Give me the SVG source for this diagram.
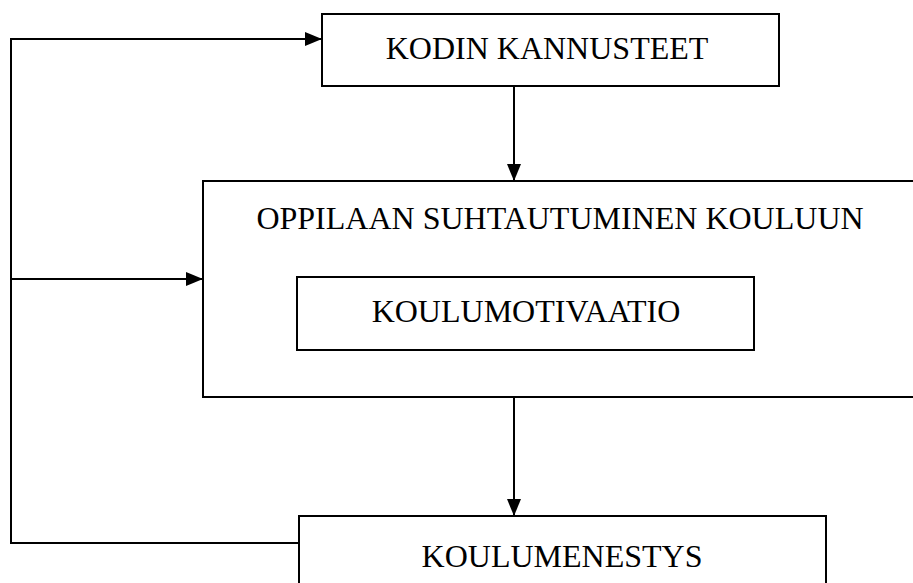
<svg xmlns="http://www.w3.org/2000/svg" width="913" height="583" viewBox="0 0 913 583">
<style>
.box{fill:#fff;stroke:#000;stroke-width:2}
.lbl{font-family:"Liberation Serif","Times New Roman",serif;font-size:32px;fill:#000;text-anchor:middle}
.con{fill:none;stroke:#000;stroke-width:2}
</style>
<defs>
<marker id="ah" markerWidth="17" markerHeight="14" refX="17" refY="7" orient="auto" markerUnits="userSpaceOnUse">
<path d="M0,0 L17,7 L0,14 Z" fill="#000"/>
</marker>
</defs>
<rect width="913" height="583" fill="#fff"/>
<g id="oppilaan">
<rect class="box" x="203" y="181" width="720" height="216"/>
<text class="lbl" x="560" y="229">OPPILAAN SUHTAUTUMINEN KOULUUN</text>
</g>
<g id="kodin">
<rect class="box" x="322" y="14" width="457" height="72"/>
<text class="lbl" x="547" y="59">KODIN KANNUSTEET</text>
</g>
<g id="koulumotivaatio">
<rect class="box" x="297" y="277" width="457" height="73"/>
<text class="lbl" x="526" y="322">KOULUMOTIVAATIO</text>
</g>
<g id="koulumenestys">
<rect class="box" x="299" y="516" width="527" height="80"/>
<text class="lbl" x="562" y="567">KOULUMENESTYS</text>
</g>
<g id="connectors">
<path class="con" d="M299,543 L11,543 L11,39 L322,39" marker-end="url(#ah)"/>
<path class="con" d="M11,279 L203,279" marker-end="url(#ah)"/>
<path class="con" d="M514,86 L514,181" marker-end="url(#ah)"/>
<path class="con" d="M514,397 L514,516" marker-end="url(#ah)"/>
</g>
</svg>
